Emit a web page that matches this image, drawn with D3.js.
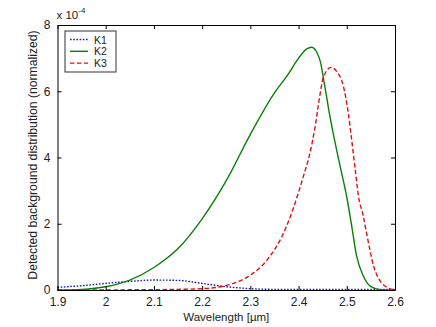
<!DOCTYPE html>
<html lang="en">
<head>
    <meta charset="UTF-8">
    <title>Detected background distribution</title>
    <script src="https://d3js.org/d3.v7.min.js"></script>
    <style>
        body, html {
            margin: 0;
            padding: 0;
            background: #fff;
            font-family: "Liberation Sans", Arial, sans-serif;
        }
        .axis text {
            font-size: 12px;
            fill: #222;
        }
    </style>
</head>
<body>
    <div id="chart"></div>
    <script>
        // wavelength (um) and normalized values (x 10^-4)
        const k1Wave = [1.9, 1.95, 2.0, 2.05, 2.1, 2.15, 2.2, 2.25, 2.3, 2.35, 2.4, 2.5, 2.6];
        const k1Vals = [0.08, 0.13, 0.2, 0.26, 0.3, 0.29, 0.2, 0.1, 0.04, 0.02, 0.02, 0.02, 0.02];

        const k2Wave = [1.9, 1.95, 2.0, 2.05, 2.1, 2.15, 2.2, 2.25, 2.3, 2.35, 2.38, 2.4, 2.417, 2.427, 2.437, 2.445, 2.455, 2.465, 2.475, 2.486, 2.5, 2.51, 2.52, 2.535, 2.55, 2.57, 2.6];
        const k2Vals = [0.0, 0.02, 0.1, 0.3, 0.68, 1.25, 2.15, 3.3, 4.7, 5.95, 6.55, 7.0, 7.28, 7.33, 7.2, 6.9, 6.1, 5.25, 4.5, 3.75, 2.8, 1.95, 1.05, 0.4, 0.1, 0.01, 0.0];

        const k3Wave = [1.9, 2.1, 2.2, 2.23, 2.265, 2.3, 2.335, 2.375, 2.4, 2.41, 2.423, 2.434, 2.444, 2.451, 2.467, 2.479, 2.493, 2.503, 2.51, 2.517, 2.524, 2.534, 2.541, 2.548, 2.555, 2.561, 2.57, 2.585, 2.6];
        const k3Vals = [0.0, 0.01, 0.04, 0.08, 0.2, 0.45, 0.91, 1.92, 2.95, 3.43, 4.1, 4.9, 5.86, 6.4, 6.72, 6.6, 6.15, 5.35, 4.55, 3.7, 2.85, 2.25, 1.72, 1.21, 0.75, 0.5, 0.25, 0.07, 0.0];

        const xTicks = [1.9, 2.0, 2.1, 2.2, 2.3, 2.4, 2.5, 2.6];
        const xTickLabels = ["1.9", "2", "2.1", "2.2", "2.3", "2.4", "2.5", "2.6"];
        const yTicks = [0, 2, 4, 6, 8];

        const seriesNames = ["K1", "K2", "K3"];
        const seriesColors = ["#1a1ab8", "#0a800a", "#e01010"];
        const seriesDash = ["1.6,1.6", null, "4.5,2.5"];

        const series = [
            k1Wave.map((w, i) => ({ w, v: k1Vals[i] })),
            k2Wave.map((w, i) => ({ w, v: k2Vals[i] })),
            k3Wave.map((w, i) => ({ w, v: k3Vals[i] }))
        ];

        const W = 436, H = 327;
        const margin = { top: 25, right: 41, bottom: 37, left: 57.5 },
            width = W - margin.left - margin.right,
            height = H - margin.top - margin.bottom;

        const svg = d3.select("#chart").append("svg")
            .attr("width", W)
            .attr("height", H);

        const g = svg.append("g")
            .attr("transform", `translate(${margin.left},${margin.top})`);

        const x = d3.scaleLinear().domain([1.9, 2.6]).range([0, width]);
        const y = d3.scaleLinear().domain([0, 8]).range([height, 0]);

        // curves
        const line = d3.line()
            .x(d => x(d.w))
            .y(d => y(d.v))
            .curve(d3.curveMonotoneX);

        series.forEach((s, i) => {
            g.append("path")
                .datum(s)
                .attr("fill", "none")
                .attr("stroke", seriesColors[i])
                .attr("stroke-width", 1.4)
                .attr("stroke-dasharray", seriesDash[i])
                .attr("d", line);
        });

        // axes with inward ticks, boxed
        const tickLen = 4;
        g.append("g")
            .attr("class", "axis")
            .attr("transform", `translate(0,${height})`)
            .call(d3.axisBottom(x).tickValues(xTicks)
                .tickFormat((d, i) => xTickLabels[i])
                .tickSizeInner(-tickLen).tickSizeOuter(0).tickPadding(7));

        g.append("g")
            .call(d3.axisTop(x).tickValues(xTicks).tickFormat("")
                .tickSizeInner(-tickLen).tickSizeOuter(0));

        g.append("g")
            .attr("class", "axis")
            .call(d3.axisLeft(y).tickValues(yTicks)
                .tickSizeInner(-tickLen).tickSizeOuter(0).tickPadding(7));

        g.append("g")
            .attr("transform", `translate(${width},0)`)
            .call(d3.axisRight(y).tickValues(yTicks).tickFormat("")
                .tickSizeInner(-tickLen).tickSizeOuter(0));

        g.selectAll(".domain").attr("stroke", "#000");
        g.selectAll(".tick line").attr("stroke", "#000");

        // exponent label
        const expo = svg.append("text")
            .attr("x", margin.left - 1)
            .attr("y", 19)
            .attr("font-size", 11.5)
            .attr("fill", "#222");
        expo.append("tspan").text("x 10");
        expo.append("tspan").attr("dy", -6).attr("font-size", 8).text("-4");

        // axis titles
        svg.append("text")
            .attr("x", margin.left + width / 2)
            .attr("y", 321)
            .attr("text-anchor", "middle")
            .attr("font-size", 11.5)
            .attr("fill", "#222")
            .text("Wavelength [\u00b5m]");

        svg.append("text")
            .attr("transform", `translate(37,155) rotate(-90)`)
            .attr("text-anchor", "middle")
            .attr("font-size", 12.2)
            .attr("fill", "#222")
            .text("Detected background distribution (normalized)");

        // legend
        const legend = g.append("g")
            .attr("transform", `translate(${65 - margin.left},${31 - margin.top})`);
        legend.append("rect")
            .attr("width", 51)
            .attr("height", 41)
            .attr("fill", "#fff")
            .attr("stroke", "#333");
        seriesNames.forEach((name, i) => {
            const ly = 8.5 + i * 11.8;
            legend.append("line")
                .attr("x1", 5).attr("x2", 23)
                .attr("y1", ly).attr("y2", ly)
                .attr("stroke", seriesColors[i])
                .attr("stroke-width", 1.4)
                .attr("stroke-dasharray", seriesDash[i]);
            legend.append("text")
                .attr("x", 29)
                .attr("y", ly + 4)
                .attr("font-size", 10.5)
                .attr("fill", "#222")
                .text(name);
        });
    </script>
</body>
</html>
